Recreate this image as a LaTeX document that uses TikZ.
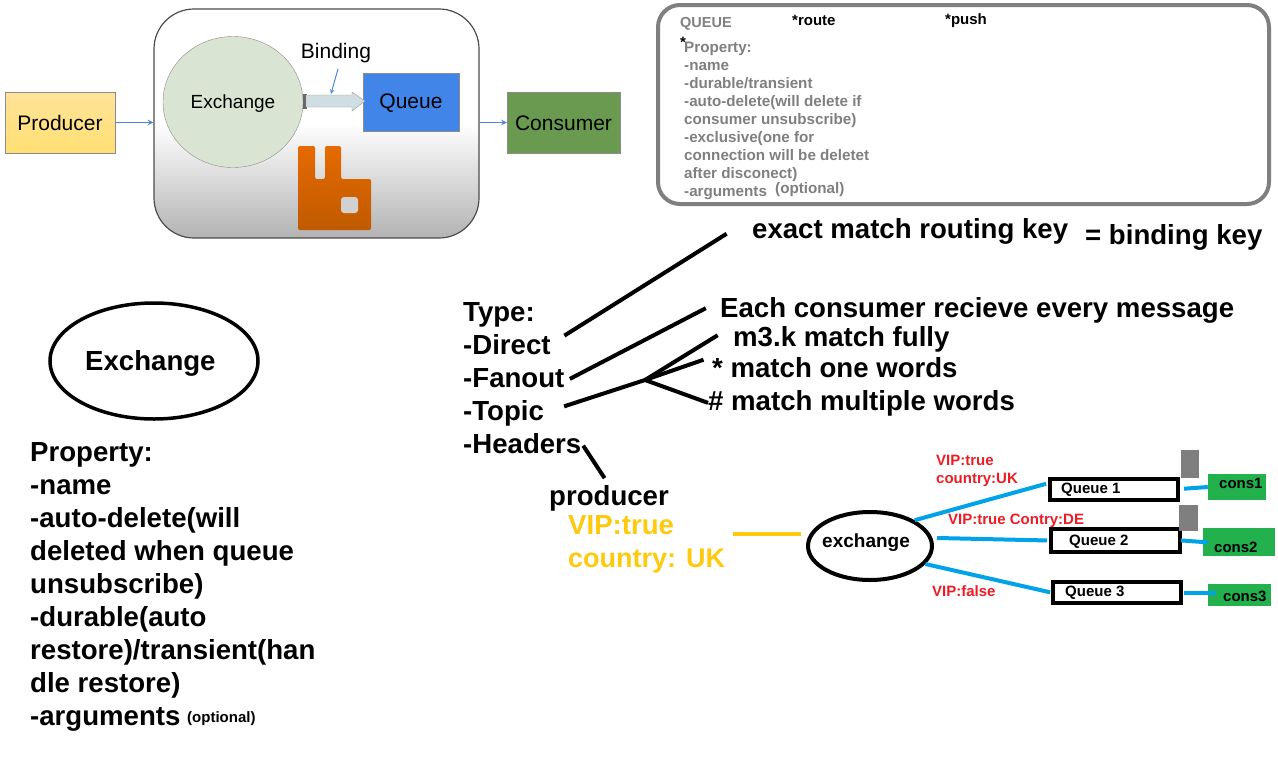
\documentclass[tikz,border=0pt]{standalone}
\usepackage{fontspec}
\setmainfont{Liberation Sans}
\usetikzlibrary{shapes.geometric}

\definecolor{panelGray}{HTML}{7F7F7F}
\definecolor{routeRed}{HTML}{ED1C24}
\definecolor{linkBlue}{HTML}{00A2E8}
\definecolor{msgYellow}{HTML}{FFC90E}
\definecolor{consGreen}{HTML}{22B14C}
\definecolor{flowBlue}{HTML}{4A86D8}
\definecolor{queueBlue}{HTML}{4285E8}
\definecolor{consumerGreen}{HTML}{6A9A4F}
\definecolor{exchangeGreen}{HTML}{D9E5D2}
\definecolor{bindingGray}{HTML}{D0DEE3}
\definecolor{rabbitTop}{HTML}{E56A00}
\definecolor{rabbitBottom}{HTML}{C05A00}

\tikzset{
    bigtext/.style={anchor=base west, inner sep=0, yshift=-1pt, font=\fontsize{27.6}{33}\selectfont\bfseries},
    graytext/.style={anchor=base west, inner sep=0, text=panelGray, font=\fontsize{15.2}{18}\selectfont\bfseries},
    smalltext/.style={anchor=base west, inner sep=0, font=\fontsize{15}{18}\selectfont\bfseries},
    redtext/.style={smalltext, text=routeRed},
    softtext/.style={inner sep=0, text height=17pt, font=\fontsize{21}{24}\selectfont},
    softbox/.style={softtext, draw=black!45, minimum height=61pt},
    queuebox/.style={draw=black, line width=4pt, minimum width=128pt, minimum height=21pt, inner sep=0},
    consbox/.style={fill=consGreen, inner sep=0},
    thickline/.style={line width=4pt, black},
    bindline/.style={line width=4pt, linkBlue},
    flowline/.style={-stealth, line width=1.5pt, flowBlue},
}

\begin{document}
\begin{tikzpicture}[x=1pt, y=-1pt]
    \useasboundingbox (0,0) rectangle (1278,780);

    % Broker overview
    \node[softbox, minimum width=110pt, top color=yellow!45!orange!40, bottom color=yellow!55!orange!55] (PRODUCER_BOX) at (60,122.5) {Producer};
    \node[draw=black!70, rounded corners=40pt, minimum width=325pt, minimum height=229pt, inner sep=0, line width=1.2pt,
        top color=white, bottom color=black!30, middle color=white] (BROKER) at (316.5,123.5) {};
    \node[softtext, ellipse, draw=black!45, fill=exchangeGreen, minimum width=140pt, minimum height=131pt,
        font=\fontsize{19}{24}\selectfont] (EXCHANGE_TOP) at (233,102) {Exchange};
    \node[softtext, draw=black!45, fill=queueBlue, minimum width=96pt, minimum height=58pt] (QUEUE_TOP) at (411,102) {Queue};
    \node[softbox, minimum width=113pt, fill=consumerGreen] (CONSUMER_BOX) at (563.5,122.5) {Consumer};
    \node[softtext] (BINDING) at (336,52) {Binding};

    \draw[flowline] (PRODUCER_BOX.east) -- (PRODUCER_BOX.east -| BROKER.west);
    \draw[flowline] (CONSUMER_BOX.west -| BROKER.east) -- (CONSUMER_BOX.west);
    \draw[flowline, line width=1pt] (BINDING.south) ++(2,6) -- ++(-7,25);

    % Binding arrow
    \fill[black!60] (303,94) rectangle (307,109);
    \draw[draw=black!40, fill=bindingGray] (306,95) -- (352,95) -- (352,92) -- (365,101) -- (352,111) -- (352,107) -- (306,107) -- cycle;

    % Rabbit
    \draw[draw=none, rounded corners=2pt, top color=rabbitTop, bottom color=rabbitBottom]
        (298,146) -- (315,146) -- (315,179) -- (325,179) -- (325,146) -- (341,146) -- (341,179)
        -- (371,179) -- (371,230) -- (298,230) -- cycle;
    \fill[black!18, rounded corners=3pt] (341,197) rectangle (358,213);

    % Queue panel
    \node[draw=panelGray, line width=4pt, rounded corners=22pt, minimum width=611pt, minimum height=199pt, inner sep=0] (QUEUE_PANEL) at (963.5,104.5) {};
    \node[graytext, font=\fontsize{14.5}{18}\selectfont\bfseries] (QUEUE_TITLE) at (680,27) {QUEUE};
    \node[smalltext] (ROUTE) at (792,25) {*route};
    \node[smalltext] (PUSH) at (945,24) {*push};
    \node[smalltext] (STAR) at (680,47) {*};
    \foreach \label [count=\i from 0] in {Property:, -name, -durable/transient, -auto-delete(will delete if, consumer unsubscribe), -exclusive(one for, connection will be deletet, after disconect), -arguments}{
        \node[graytext] (QUEUE_PROP_\i) at (684,52+18*\i) {\label};
    }
    \node[graytext] (QUEUE_OPT) at (775,193) {(optional)};

    % Exchange notes
    \node[ellipse, draw=black, line width=3.5pt, minimum width=208pt, minimum height=116pt, inner sep=0] (EXCHANGE_NOTE) at (154,361) {};
    \node[bigtext] (EXCHANGE_TEXT) at (85,369) {Exchange};
    \foreach \label [count=\i from 0] in {Property:, -name, -auto-delete(will, deleted when queue, unsubscribe), -durable(auto, restore)/transient(han, dle restore), -arguments}{
        \node[bigtext] (PROP_\i) at (30,460+33*\i) {\label};
    }
    \node[smalltext] (PROP_OPT) at (187,722) {(optional)};

    % Types
    \node[bigtext] (TYPE) at (463,320) {Type:};
    \node[bigtext] (DIRECT) at (463,353) {-Direct};
    \node[bigtext] (FANOUT) at (463,386) {-Fanout};
    \node[bigtext] (TOPIC) at (463,419) {-Topic};
    \node[bigtext] (HEADERS) at (463,452) {-Headers};

    \node[bigtext] (EXACT) at (752,237) {exact match routing key};
    \node[bigtext] (BINDKEY) at (1085,243) {= binding key};
    \node[bigtext] (EVERY) at (720,316) {Each consumer recieve every message};
    \node[bigtext] (FULLY) at (733,345) {m3.k match fully};
    \node[bigtext] (ONEWORD) at (712,376) {* match one words};
    \node[bigtext] (MULTIWORD) at (708,409) {\# match multiple words};
    \coordinate (TOPIC_HUB) at (645,380);

    \draw[thickline, shorten <=16pt, shorten >=30pt] (DIRECT.east) -- (EXACT.north west);
    \draw[thickline, shorten <=6pt, shorten >=16pt] ([yshift=-4pt]FANOUT.east) -- ([yshift=-4pt]EVERY.north west);
    \draw[thickline, shorten <=21pt] (TOPIC.east) -- (TOPIC_HUB);
    \draw[thickline, shorten >=18pt] (TOPIC_HUB) -- (FULLY.north west);
    \draw[thickline, shorten >=9pt] (TOPIC_HUB) -- (ONEWORD.north west);
    \draw[thickline] (TOPIC_HUB) -- (MULTIWORD.west);

    % Headers example
    \node[bigtext] (PRODUCER) at (549,504) {producer};
    \node[bigtext, text=msgYellow] (VIP) at (568,533) {VIP:true};
    \node[bigtext, text=msgYellow, font=\fontsize{27}{33}\selectfont\bfseries] (COUNTRY) at (568,566) {country: UK};
    \draw[thickline, shorten <=3pt, shorten >=8pt] (HEADERS.east) -- (PRODUCER.north);

    \node[ellipse, draw=black, line width=4pt, minimum width=124pt, minimum height=68pt, inner sep=0] (EXCHANGE) at (870,546) {};
    \node[smalltext, font=\fontsize{19}{20}\selectfont\bfseries] (EXCHANGE_LABEL) at (822,547) {exchange};
    \coordinate (MSG_OUT) at (733,534);
    \draw[line width=4pt, msgYellow, shorten >=5pt] (MSG_OUT) -- (MSG_OUT -| EXCHANGE.west);

    \node[queuebox] (QUEUE_1) at (1114,489) {};
    \node[queuebox, minimum width=129pt, minimum height=23pt] (QUEUE_2) at (1115.5,540.5) {};
    \node[queuebox, minimum width=128pt] (QUEUE_3) at (1117,592.5) {};
    \node[smalltext] (QUEUE_1_LABEL) at (1061,493) {Queue 1};
    \node[smalltext] (QUEUE_2_LABEL) at (1069,545) {Queue 2};
    \node[smalltext] (QUEUE_3_LABEL) at (1065,596) {Queue 3};

    \fill[panelGray] (1181,450) rectangle (1199,478);
    \fill[panelGray] (1179,505) rectangle (1198,531);

    \node[consbox, minimum width=58pt, minimum height=26pt] (CONS_1) at (1237,487) {};
    \node[consbox, minimum width=72pt, minimum height=28pt] (CONS_2) at (1239,542) {};
    \node[consbox, minimum width=63pt, minimum height=22pt] (CONS_3) at (1239.5,595) {};
    \node[smalltext] (CONS_1_LABEL) at (1219,488) {cons1};
    \node[smalltext] (CONS_2_LABEL) at (1214,552) {cons2};
    \node[smalltext] (CONS_3_LABEL) at (1223,601) {cons3};

    \draw[bindline, shorten >=2pt] (EXCHANGE.30) -- (QUEUE_1.175);
    \draw[bindline, shorten <=-1pt, shorten >=2pt] (EXCHANGE.east) ++(4,-8) -- (QUEUE_2.west);
    \draw[bindline, shorten >=1pt] (EXCHANGE.-18) -- (QUEUE_3.west);
    \draw[bindline, shorten <=4pt] (QUEUE_1.east) -- (CONS_1.west);
    \draw[bindline, shorten <=-1pt, shorten >=-5pt] (QUEUE_2.east) -- (CONS_2.west);
    \draw[bindline, shorten <=1pt, shorten >=-8pt] (QUEUE_3.east) -- (CONS_3.west |- QUEUE_3.east);

    \node[redtext] (RULE_VIP) at (936,465) {VIP:true};
    \node[redtext] (RULE_UK) at (936,483) {country:UK};
    \node[redtext] (RULE_DE) at (948,524) {VIP:true Contry:DE};
    \node[redtext] (RULE_FALSE) at (932,596) {VIP:false};

\end{tikzpicture}
\end{document}
